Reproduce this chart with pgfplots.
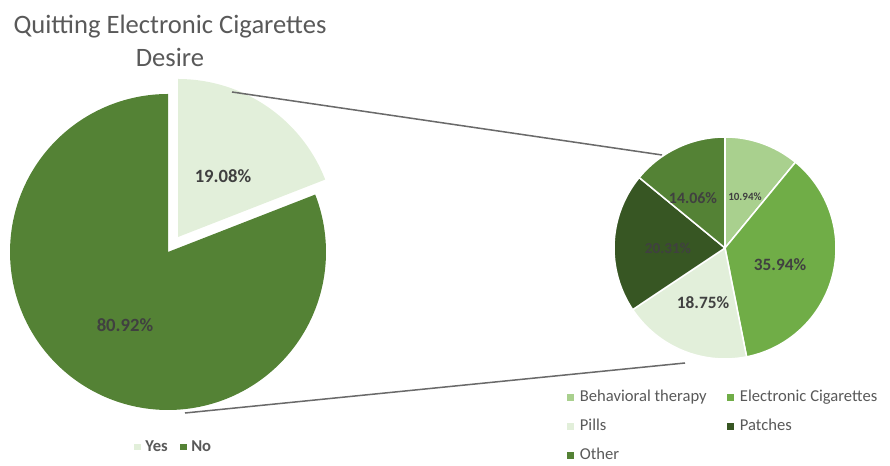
\documentclass[border=0pt]{standalone}
\usepackage{fontspec}
\setmainfont{Carlito}
\usepackage{pgfplots}
\pgfplotsset{compat=1.18}
\definecolor{cNo}{HTML}{548235}
\definecolor{cYes}{HTML}{E2EFDA}
\definecolor{cBeh}{HTML}{A9D08E}
\definecolor{cEcig}{HTML}{70AD47}
\definecolor{cPills}{HTML}{E2EFDA}
\definecolor{cPatch}{HTML}{375623}
\definecolor{cOther}{HTML}{548235}
\definecolor{lab}{HTML}{404040}
\definecolor{txt}{HTML}{595959}
\definecolor{conn}{HTML}{6A6A6A}
% values (percent)
\def\pYes{19.08}\def\pNo{80.92}
\def\pBeh{10.94}\def\pEcig{35.94}\def\pPills{18.75}\def\pPatch{20.31}\def\pOther{14.06}
\pgfplotsset{
  base/.style={
    xmin=0,xmax=890,ymin=0,ymax=460,
    width=8.9in,height=4.6in,scale only axis,
    hide axis,clip=false,
    legend image code/.code={\fill[##1,draw=none] (0pt,-2.5pt) rectangle (5pt,2.5pt);},
  },
}
\begin{document}
\begin{tikzpicture}
% ---------------- left pie ----------------
\begin{axis}[base,
  legend columns=2,
  legend style={draw=none,fill=none,font=\bfseries\fontsize{12}{14}\selectfont,text=txt,
    at={(130/890,13/460)},anchor=west,
    nodes={inner sep=0pt,text height=8.5pt,text depth=2.5pt},
    /tikz/every odd column/.append style={column sep=3pt},
    /tikz/every even column/.append style={column sep=9pt}},
]
\path (0,0) rectangle (890,460);
% Yes slice (exploded): 90 -> 90-3.6*pYes
\addplot[fill=cYes,draw=none,domain={90-3.6*\pYes}:90,samples=80,variable=\t]
  ({178+158*cos(\t)},{223+158*sin(\t)}) -- (178,223) -- cycle;
\addlegendentry{Yes}
% No slice
\addplot[fill=cNo,draw=none,domain={-270}:{90-3.6*\pYes},samples=200,variable=\t]
  ({168+158*cos(\t)},{208+158*sin(\t)}) -- (168,208) -- cycle;
\addlegendentry{No}
% connector lines
\draw[conn,line width=1.1pt] (232,368) -- (662,305);
\draw[conn,line width=1.1pt] (185,47) -- (685,97);
% labels
\node[font=\bfseries\fontsize{13.5}{15}\selectfont,text=lab] at (125,135) {80.92\%};
\node[font=\bfseries\fontsize{13.5}{15}\selectfont,text=lab] at (223,284) {19.08\%};
% title
\node[font=\fontsize{19.2}{23.5}\selectfont,text=txt,align=center] at (170,419)
  {Quitting Electronic Cigarettes\\Desire};
\end{axis}
% ---------------- right pie ----------------
\begin{axis}[base,
  legend columns=2,
  legend cell align=left,
  legend style={draw=none,fill=none,font=\fontsize{12}{14}\selectfont,text=txt,
    at={(563/890,73/460)},anchor=north west,
    nodes={inner sep=0pt,text height=8.5pt,text depth=2.5pt},
    row sep=9.8pt,
    /tikz/every odd column/.append style={column sep=4pt},
    /tikz/every even column/.append style={column sep=15pt}},
]
\path (0,0) rectangle (890,460);
\addplot[fill=cBeh,draw=white,line width=1.1pt,domain={90-3.6*\pBeh}:90,samples=40,variable=\t]
  ({725+111*cos(\t)},{212+111*sin(\t)}) -- (725,212) -- cycle;
\addlegendentry{Behavioral therapy}
\addplot[fill=cEcig,draw=white,line width=1.1pt,domain={90-3.6*(\pBeh+\pEcig)}:{90-3.6*\pBeh},samples=100,variable=\t]
  ({725+111*cos(\t)},{212+111*sin(\t)}) -- (725,212) -- cycle;
\addlegendentry{Electronic Cigarettes}
\addplot[fill=cPills,draw=white,line width=1.1pt,domain={90-3.6*(\pBeh+\pEcig+\pPills)}:{90-3.6*(\pBeh+\pEcig)},samples=60,variable=\t]
  ({725+111*cos(\t)},{212+111*sin(\t)}) -- (725,212) -- cycle;
\addlegendentry{Pills}
\addplot[fill=cPatch,draw=white,line width=1.1pt,domain={90-3.6*(\pBeh+\pEcig+\pPills+\pPatch)}:{90-3.6*(\pBeh+\pEcig+\pPills)},samples=60,variable=\t]
  ({725+111*cos(\t)},{212+111*sin(\t)}) -- (725,212) -- cycle;
\addlegendentry{Patches}
\addplot[fill=cOther,draw=white,line width=1.1pt,domain={-270}:{90-3.6*(\pBeh+\pEcig+\pPills+\pPatch)},samples=50,variable=\t]
  ({725+111*cos(\t)},{212+111*sin(\t)}) -- (725,212) -- cycle;
\addlegendentry{Other}
% labels
\node[font=\bfseries\fontsize{8}{9}\selectfont,text=lab] at (745,263) {10.94\%};
\node[font=\bfseries\fontsize{12.5}{14}\selectfont,text=lab] at (780,195) {35.94\%};
\node[font=\bfseries\fontsize{12.5}{14}\selectfont,text=lab] at (703,157) {18.75\%};
\node[font=\bfseries\fontsize{11}{13}\selectfont,text=lab] at (668,212) {20.31\%};
\node[font=\bfseries\fontsize{11.5}{13}\selectfont,text=lab] at (693,262) {14.06\%};
\end{axis}
\end{tikzpicture}
\end{document}
